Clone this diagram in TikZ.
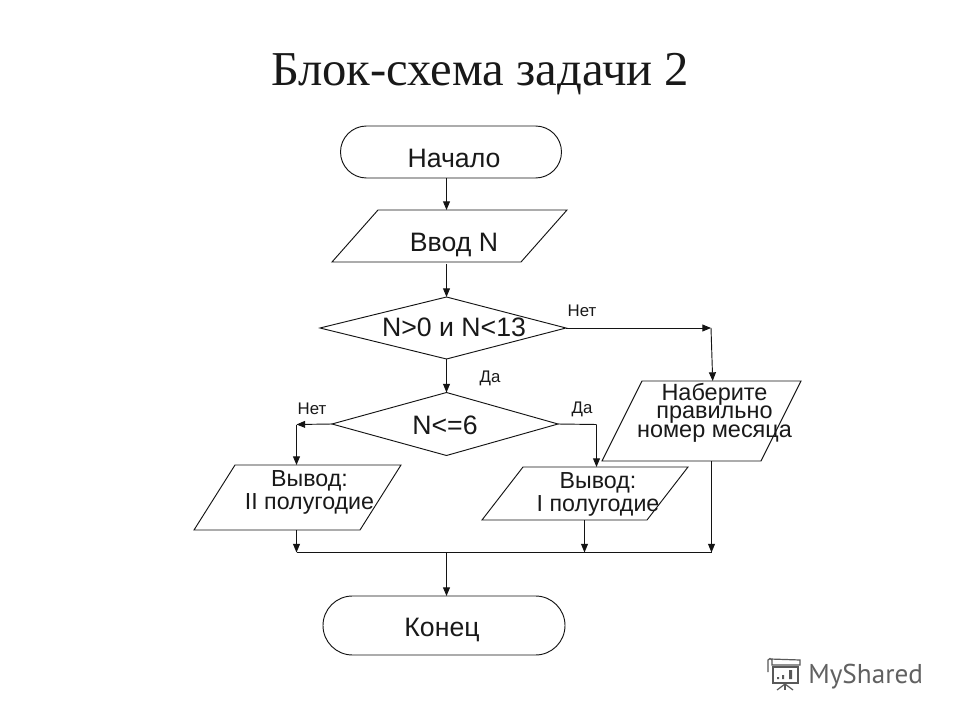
\documentclass[tikz,border=0pt]{standalone}
\usepackage{fontspec}
\setmainfont{Liberation Sans}
\newfontfamily\titlefont{Liberation Serif}
\newfontfamily\markfont{PT Sans}
\usetikzlibrary{arrows.meta,shapes.misc,calc}
\tikzset{
  x=0.75pt,y=-0.75pt,
  line/.style={draw=black!92,line width=0.7pt},
  flow/.style={line,-{Triangle[length=6.5pt,width=5.2pt]}},
  box/.style 2 args={shape=rectangle,inner sep=0pt,outer sep=0pt,minimum width=#1*0.75pt,minimum height=#2*0.75pt},
  terminal/.style 2 args={shape=rounded rectangle,draw=black!92,line width=0.7pt,inner sep=0pt,outer sep=0pt,minimum width=#1*0.75pt,minimum height=#2*0.75pt},
  big/.style={inner sep=0pt,font=\fontsize{20}{20}\selectfont,text=black!90},
  mid/.style={inner sep=0pt,font=\fontsize{17.6}{13.9}\selectfont,align=center,text=black!90},
  midtwo/.style={inner sep=0pt,font=\fontsize{17.4}{17.2}\selectfont,align=center,text=black!90},
  small/.style={inner sep=0pt,font=\fontsize{12.6}{12.6}\selectfont,text=black!90},
}
\newcommand{\paraoutline}[2]{\draw[line] (#1.south west) -- ($(#1.south east)+(-#2,0)$) -- (#1.north east) -- ($(#1.north west)+(#2,0)$) -- cycle;}
\newcommand{\diaoutline}[1]{\draw[line] (#1.west) -- (#1.north -| spine) -- (#1.east) -- (#1.south -| spine) -- cycle;}
\begin{document}
\begin{tikzpicture}
\useasboundingbox (0,0) rectangle (960,720);
\fill[white] (0,0) rectangle (960,720);
\coordinate (spine) at (446.5,0);
\node[inner sep=0pt,font=\titlefont\fontsize{36.5}{36.5}\selectfont,text=black!90] (title) at (480,74) {Блок-схема задачи 2};

\node[terminal={221}{52}] (start) at (451,152) {};
\node[big] (startt) at (454,158) {Начало};
\node[box={235}{52}] (input) at (449.5,236) {};
\paraoutline{input}{46}
\node[big] (inputt) at (454,245) {Ввод N};
\coordinate (inputout) at (446.5,264);

\node[box={246}{62}] (dtop) at (443,328) {};
\diaoutline{dtop}
\node[big] (dtopt) at (454,327) {N>0 и N<13};
\node[box={226}{63}] (dmid) at (445,424) {};
\diaoutline{dmid}
\node[big] (dmidt) at (445,425) {N<=6};

\node[box={199}{80}] (prompt) at (701.5,421) {};
\paraoutline{prompt}{40}
\node[mid] (promptt) at (714.5,412.5) {Наберите\\правильно\\номер месяца};

\node[box={207}{65}] (second) at (297.5,497.5) {};
\paraoutline{second}{41}
\node[midtwo] (secondt) at (309.5,492) {Вывод:\\II полугодие};
\node[box={206}{53}] (first) at (585,493.5) {};
\paraoutline{first}{41}
\node[midtwo] (firstt) at (598,494) {Вывод:\\I полугодие};

\node[terminal={242}{59}] (end) at (444,625.5) {};
\node[big] (endt) at (442,630) {Конец};

\coordinate (jl) at (296.5,552.5);
\coordinate (jc) at (446.5,552.5);
\coordinate (jm) at (584.5,552.5);
\coordinate (jr) at (711.5,552.5);
\coordinate (dtopturn) at (711,328);
\coordinate (promptin) at (712.7,381);
\coordinate (promptout) at (711.5,461);
\coordinate (dmidl) at (296.5,424.5);
\coordinate (dmidr) at (596.5,424.5);

\draw[flow] (start.south -| spine) -- (input.north -| spine);
\draw[flow] (inputout) -- (dtop.north -| spine);
\draw[flow] (dtop.south -| spine) -- (dmid.north -| spine);
\draw[flow] (dtop.east) -- (dtopturn);
\draw[flow] (dtopturn) -- (promptin);
\draw[flow] (dmid.west) -- (dmidl);
\draw[flow] (dmidl) -- (second.north -| dmidl);
\draw[line] (dmid.east) -- (dmidr);
\draw[flow] (dmidr) -- (first.north -| dmidr);
\draw[flow] (second.south -| jl) -- (jl);
\draw[flow] (first.south -| jm) -- (jm);
\draw[flow] (promptout) -- (jr);
\draw[line] (jl) -- (jr);
\draw[flow] (jc) -- (end.north -| jc);

\node[small] (lno1) at (582,311) {Нет};
\node[small] (lyes1) at (490,378) {Да};
\node[small] (lno2) at (312,408.5) {Нет};
\node[small] (lyes2) at (582,409) {Да};

% watermark
\begin{scope}[draw=black!65,line width=0.9pt]
\draw (773,667) rectangle (798,683);
\draw (768,672) -- (768,660) .. controls (769,658) and (771,658) .. (772,660) -- (772,665) -- (800,665) -- (800,660) -- (770,659);
\draw (785,684) -- (777,690);
\draw (785,684) -- (785,690);
\draw (785,684) -- (793,690);
\fill[black!65] (777,677) rectangle (779,679) (782,675) rectangle (784,679) (789,670) rectangle (792,679);
\end{scope}
\node[inner sep=0pt,anchor=base west,font=\markfont\fontsize{20.4}{20.4}\selectfont,text=black!62] (mark) at (808,683) {MyShared};
\end{tikzpicture}
\end{document}
